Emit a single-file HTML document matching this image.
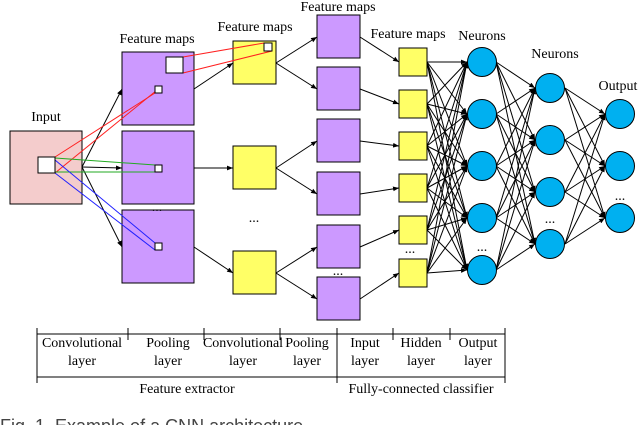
<!DOCTYPE html>
<html><head><meta charset="utf-8"><style>
html,body{margin:0;padding:0;background:#fff;width:640px;height:425px;overflow:hidden}
svg text{font-family:"Liberation Serif",serif;font-size:14px;fill:#000}
</style></head><body>
<svg id="s" width="640" height="425" viewBox="0 0 640 425" xmlns="http://www.w3.org/2000/svg">
<defs><marker id="a" viewBox="0 0 10 10" refX="10" refY="5" markerWidth="6" markerHeight="6" orient="auto"><path d="M0,1 L10,5 L0,9 z" fill="#000"/></marker></defs>
<g id="lines" stroke="#000" stroke-width="1" fill="none"></g>
<g id="shapes" stroke="#000" stroke-width="1"></g>
<g id="col" stroke-width="1" fill="none"></g>
<g id="top" stroke="#000" stroke-width="1"></g>
<g id="txt"></g>
</svg>
<script>
var NS="http://www.w3.org/2000/svg";
function el(p,t,a,tx){var e=document.createElementNS(NS,t);for(var k in a)e.setAttribute(k,a[k]);if(tx)e.textContent=tx;document.getElementById(p).appendChild(e);return e;}
function arr(x1,y1,x2,y2){el('lines','line',{x1:x1,y1:y1,x2:x2,y2:y2,'marker-end':'url(#a)'});}
function ln(x1,y1,x2,y2,c,g){el(g||'lines','line',{x1:x1,y1:y1,x2:x2,y2:y2,stroke:c||'#000'});}
function rect(x,y,w,h,f,g){el(g||'shapes','rect',{x:x,y:y,width:w,height:h,fill:f});}
function t(x,y,s,anch){el('txt','text',{x:x,y:y,'text-anchor':anch||'middle'},s);}
rect(10,131,72,73,'#f4cccc');
var conv=[52,131,210];
conv.forEach(function(y){rect(122,y,72,73,'#cc99ff');arr(82,167,122,y+37);});
var p1=[41,146,251];
conv.forEach(function(y,i){arr(194,y+37,233,p1[i]+22);});
var c2=[15,67,119,172,225,277];
c2.forEach(function(y,i){rect(317,y,43,43,'#cc99ff');var py=p1[Math.floor(i/2)];arr(276,py+22,317,y+22);});
p1.forEach(function(y){rect(233,y,43,43,'#ffff66');});
var p2=[48,90,132,174,216,259];
c2.forEach(function(y,i){arr(360,y+22,399,p2[i]+14);});
p2.forEach(function(y){rect(399,y,28,28,'#ffff66');});
var n1=[62,114,166,218,270],n2=[88,140,192,244],n3=[114,166,218];
p2.forEach(function(y){n1.forEach(function(c){arr(427,y+14,467,c);});});
n1.forEach(function(a){n2.forEach(function(c){arr(496,a,535,c);});});
n2.forEach(function(a){n3.forEach(function(c){arr(565,a,605,c);});});
n1.forEach(function(c){el('shapes','circle',{cx:482,cy:c,r:14.5,fill:'#00b0f0'});});
n2.forEach(function(c){el('shapes','circle',{cx:550,cy:c,r:14.5,fill:'#00b0f0'});});
n3.forEach(function(c){el('shapes','circle',{cx:620,cy:c,r:14.5,fill:'#00b0f0'});});
ln(55,157,155,93,'#ff2020','col');ln(55,173,162,86,'#ff2020','col');
ln(183,57,264,43,'#ff2020','col');ln(183,73,272,51,'#ff2020','col');
ln(55,158,155,165,'#22aa22','col');ln(55,172,155,172,'#22aa22','col');
ln(55,160,155,243,'#2020ff','col');ln(55,173,155,250,'#2020ff','col');
rect(38,157,17,16,'#fff','top');rect(166,57,17,16,'#fff','top');
rect(155,86,7,7,'#fff','top');rect(155,165,7,7,'#fff','top');rect(155,243,7,7,'#fff','top');
rect(264,43,8,8,'#fff','top');
t(46,121,'Input');t(157,43,'Feature maps');t(255,31,'Feature maps');t(338,11,'Feature maps');t(408,38,'Feature maps');
t(482,40,'Neurons');t(555,58,'Neurons');t(618,90,'Output');
t(157,211,'...');t(254,222,'...');t(338,275,'...');t(410,253,'...');t(482,251,'...');t(550,223,'...');t(620,200,'...');
ln(37,334,505,334);ln(37,377,505,377);
[37,337,505].forEach(function(x){ln(x,328,x,383);});
[128,204,280,393,450].forEach(function(x){ln(x,328,x,340);});
t(82,347,'Convolutional');t(82,365,'layer');
t(168,347,'Pooling');t(168,365,'layer');
t(243,347,'Convolutional');t(243,365,'layer');
t(307,347,'Pooling');t(307,365,'layer');
t(365,347,'Input');t(365,365,'layer');
t(421,347,'Hidden');t(421,365,'layer');
t(478,347,'Output');t(478,365,'layer');
t(187,393,'Feature extractor');t(421,393,'Fully-connected classifier');
el('txt','text',{x:0,y:432,'text-anchor':'start',style:'font-family:Liberation Sans,sans-serif;font-size:18px;fill:#444'},'Fig. 1. Example of a CNN architecture');
</script>
</body></html>
